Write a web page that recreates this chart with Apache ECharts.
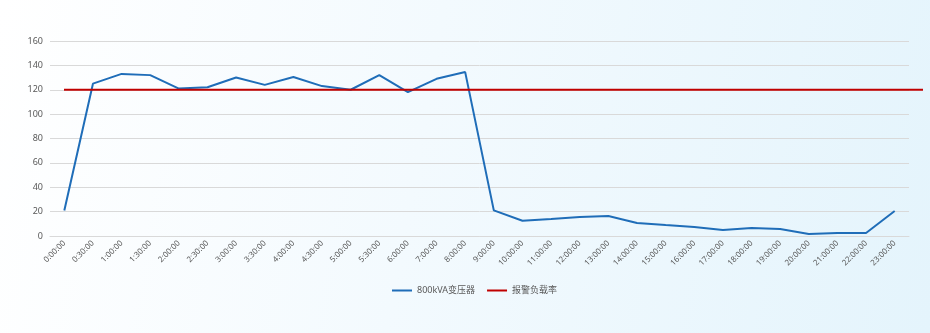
<!DOCTYPE html>
<html>
<head>
<meta charset="utf-8">
<script src="https://cdn.jsdelivr.net/npm/echarts@6/dist/echarts.min.js"></script>
<style>
html,body{margin:0;padding:0;}
body{background:linear-gradient(100deg,#ffffff 0%,#f3fafe 45%,#e4f4fc 100%);}
#c{width:930px;height:333px;}
</style>
</head>
<body>
<div id="c"></div>
<script>
const categories = ['0:00:00','0:30:00','1:00:00','1:30:00','2:00:00','2:30:00','3:00:00','3:30:00','4:00:00','4:30:00','5:00:00','5:30:00','6:00:00','7:00:00','8:00:00','9:00:00','10:00:00','11:00:00','12:00:00','13:00:00','14:00:00','15:00:00','16:00:00','17:00:00','18:00:00','19:00:00','20:00:00','21:00:00','22:00:00','23:00:00'];
const transformerLoad = [21,125,133,132,121,122,130,124,130.5,123,120,132,118,129,134.5,21,12.5,14,15.6,16.4,10.7,9,7.4,5,6.6,5.7,1.6,2.5,2.5,20.5];
const alarmThreshold = 120;
const alarmEnds = ['start','end'];
const yTicks = {min:0, max:160, interval:20};
const seriesNames = ['800kVA变压器','报警负载率'];

const font = "'Noto Sans', 'Noto Sans CJK SC', sans-serif";
const chart = echarts.init(document.getElementById('c'));
chart.setOption({
  backgroundColor: 'transparent',
  textStyle: {fontFamily: font},
  legend: {
    data: seriesNames,
    left: 387, top: 281,
    icon: 'rect', itemWidth: 20, itemHeight: 2, itemGap: 12,
    textStyle: {color: '#595959', fontSize: 9, fontFamily: font}
  },
  grid: [
    {left: 50, right: 21, top: 41, bottom: 97, containLabel: false},
    {left: 64, right: 7, top: 41, bottom: 97, containLabel: false}
  ],
  xAxis: [
    {
      type: 'category', gridIndex: 0, data: categories, boundaryGap: true,
      axisLine: {lineStyle: {color: '#d9d9d9'}},
      axisTick: {show: false},
      axisLabel: {interval: 0, rotate: 45, color: '#595959', fontSize: 8, margin: 6, fontFamily: font}
    },
    {
      type: 'category', gridIndex: 1, data: alarmEnds, boundaryGap: false, show: false
    }
  ],
  yAxis: [
    {
      type: 'value', gridIndex: 0, min: yTicks.min, max: yTicks.max, interval: yTicks.interval,
      axisLine: {show: false}, axisTick: {show: false},
      splitLine: {lineStyle: {color: '#d9d9d9'}},
      axisLabel: {color: '#595959', fontSize: 9, margin: 7, fontFamily: font}
    },
    {
      type: 'value', gridIndex: 1, min: yTicks.min, max: yTicks.max, interval: yTicks.interval, show: false,
      splitLine: {show: false}
    }
  ],
  series: [
    {
      name: seriesNames[0], type: 'line', xAxisIndex: 0, yAxisIndex: 0,
      data: transformerLoad, symbol: 'none', smooth: false,
      lineStyle: {color: '#1f6db8', width: 2}, itemStyle: {color: '#1f6db8'}
    },
    {
      name: seriesNames[1], type: 'line', xAxisIndex: 1, yAxisIndex: 1,
      data: alarmEnds.map(() => alarmThreshold), symbol: 'none',
      lineStyle: {color: '#c00000', width: 2}, itemStyle: {color: '#c00000'}
    }
  ]
});
</script>
</body>
</html>
